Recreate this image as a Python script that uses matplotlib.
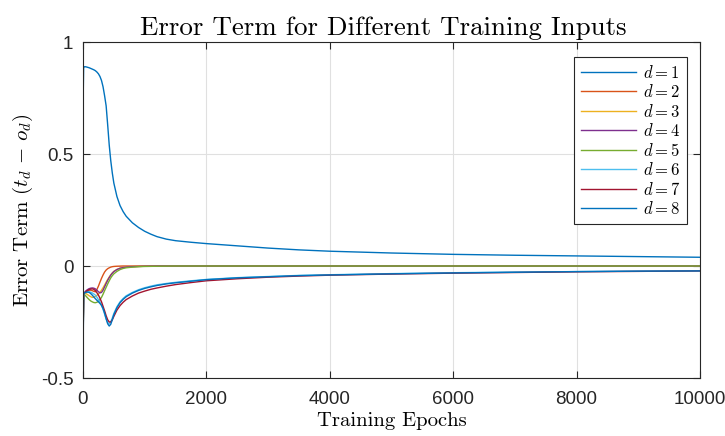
import matplotlib.pyplot as plt
from matplotlib.ticker import FixedLocator, FuncFormatter

plt.rcParams['font.family'] = 'serif'
plt.rcParams['font.serif'] = ['cmr10']
plt.rcParams['mathtext.fontset'] = 'cm'
plt.rcParams['axes.unicode_minus'] = False

# training epochs at which the error term was recorded
epochs = [0, 10, 25, 50, 75, 100, 125, 150, 175, 200, 225, 250, 275, 300, 325,
          350, 375, 400, 425, 450, 475, 500, 550, 600, 650, 700, 800, 900, 1000,
          1100, 1200, 1350, 1500, 1750, 2000, 2500, 3000, 3500, 4000, 5000, 6000,
          7000, 8000, 9000, 10000]

err_d1 = [0.70, 0.885, 0.89, 0.889, 0.887, 0.885, 0.882, 0.879, 0.876, 0.872,
          0.866, 0.858, 0.846, 0.828, 0.80, 0.76, 0.715, 0.63, 0.54, 0.47, 0.415,
          0.37, 0.31, 0.27, 0.243, 0.222, 0.193, 0.172, 0.155, 0.142, 0.131, 0.12,
          0.113, 0.106, 0.100, 0.090, 0.080, 0.072, 0.066, 0.058, 0.052, 0.048,
          0.045, 0.042, 0.039]
err_d2 = [-0.33, -0.125, -0.12, -0.115, -0.11, -0.108, -0.108, -0.11, -0.113,
          -0.115, -0.105, -0.09, -0.072, -0.055, -0.04, -0.027, -0.018, -0.012,
          -0.008, -0.005, -0.003, -0.002, -0.001, -0.0005,
          0, 0, 0, 0, 0, 0, 0, 0, 0, 0, 0, 0, 0, 0, 0, 0, 0, 0, 0, 0, 0]
err_d3 = [-0.36, -0.125, -0.122, -0.123, -0.128, -0.133, -0.137, -0.14, -0.139,
          -0.136, -0.131, -0.125, -0.118, -0.108, -0.097, -0.085, -0.072, -0.06,
          -0.049, -0.039, -0.031, -0.024, -0.015, -0.01, -0.007, -0.005, -0.003,
          -0.002, -0.001, -0.0005,
          0, 0, 0, 0, 0, 0, 0, 0, 0, 0, 0, 0, 0, 0, 0]
err_d4 = [-0.34, -0.125, -0.118, -0.11, -0.105, -0.101, -0.099, -0.098, -0.099,
          -0.102, -0.108, -0.115, -0.12, -0.118, -0.108, -0.093, -0.078, -0.064,
          -0.052, -0.041, -0.032, -0.025, -0.016, -0.01, -0.007, -0.005, -0.003,
          -0.002, -0.001, -0.0005,
          0, 0, 0, 0, 0, 0, 0, 0, 0, 0, 0, 0, 0, 0, 0]
err_d5 = [-0.37, -0.125, -0.128, -0.135, -0.143, -0.15, -0.156, -0.16, -0.163,
          -0.164, -0.162, -0.158, -0.15, -0.14, -0.126, -0.11, -0.095, -0.08,
          -0.066, -0.053, -0.043, -0.035, -0.024, -0.016, -0.011, -0.008, -0.005,
          -0.003, -0.002, -0.0015, -0.001, -0.0005,
          0, 0, 0, 0, 0, 0, 0, 0, 0, 0, 0, 0, 0]
err_d6 = [-0.38, -0.125, -0.12, -0.118, -0.116, -0.115, -0.117, -0.12, -0.125,
          -0.13, -0.139, -0.15, -0.161, -0.175, -0.193, -0.215, -0.237, -0.253,
          -0.258, -0.25, -0.232, -0.212, -0.182, -0.16, -0.145, -0.133, -0.118,
          -0.106, -0.097, -0.09, -0.084, -0.078, -0.073, -0.066, -0.060, -0.052,
          -0.047, -0.042, -0.039, -0.034, -0.030, -0.027, -0.025, -0.023, -0.021]
err_d7 = [-0.40, -0.125, -0.12, -0.114, -0.109, -0.105, -0.103, -0.102, -0.104,
          -0.11, -0.119, -0.13, -0.144, -0.16, -0.18, -0.20, -0.222, -0.24, -0.25,
          -0.25, -0.24, -0.225, -0.197, -0.177, -0.162, -0.15, -0.134, -0.121,
          -0.112, -0.104, -0.098, -0.09, -0.083, -0.074, -0.066, -0.057, -0.050,
          -0.045, -0.041, -0.036, -0.032, -0.029, -0.026, -0.024, -0.022]
err_d8 = [-0.45, -0.125, -0.12, -0.117, -0.116, -0.118, -0.123, -0.13, -0.138,
          -0.146, -0.153, -0.16, -0.167, -0.176, -0.19, -0.21, -0.235, -0.258,
          -0.268, -0.26, -0.24, -0.217, -0.186, -0.164, -0.149, -0.137, -0.121,
          -0.109, -0.10, -0.093, -0.087, -0.08, -0.075, -0.068, -0.061, -0.053,
          -0.048, -0.043, -0.040, -0.035, -0.031, -0.028, -0.025, -0.023, -0.022]

series = [err_d1, err_d2, err_d3, err_d4, err_d5, err_d6, err_d7, err_d8]
labels = ['$d = %d$' % (i + 1) for i in range(len(series))]
colors = ['#0072BD', '#D95319', '#EDB120', '#7E2F8E', '#77AC30', '#4DBEEE',
          '#A2142F', '#0072BD']

fig = plt.figure(figsize=(7.25, 4.36), dpi=100)
ax = fig.add_axes([83 / 725, 1 - 378 / 436, 617 / 725, 336 / 436])

for y, c, lab in zip(series, colors, labels):
    ax.plot(epochs, y, color=c, linewidth=1.0, label=lab)

ax.set_xlim(0, 10000)
ax.set_ylim(-0.5, 1)
ax.xaxis.set_major_locator(FixedLocator([0, 2000, 4000, 6000, 8000, 10000]))
ax.yaxis.set_major_locator(FixedLocator([-0.5, 0, 0.5, 1]))
ax.xaxis.set_major_formatter(FuncFormatter(lambda v, p: '%g' % v))
ax.yaxis.set_major_formatter(FuncFormatter(lambda v, p: '%g' % v))
for t in ax.get_xticklabels() + ax.get_yticklabels():
    t.set_fontfamily('Liberation Sans')
    t.set_fontsize(13.5)
    t.set_color('#262626')

ax.tick_params(direction='in', length=5, width=0.8, color='#262626',
               top=True, right=True)
ax.tick_params(axis='x', pad=9)
ax.tick_params(axis='y', pad=7)
ax.grid(True, color='#e0e0e0', linewidth=0.8)
ax.set_axisbelow(True)
for s in ax.spines.values():
    s.set_color('#262626')
    s.set_linewidth(0.8)

ax.set_title('Error Term for Different Training Inputs', fontsize=19.4,
             x=0.487, pad=5)
ax.set_xlabel('Training Epochs', fontsize=14.9, labelpad=3)
ax.set_ylabel(r'Error Term $(t_d\,-\,o_d)$', fontsize=15, labelpad=4)

leg = ax.legend(loc='upper right', bbox_to_anchor=(687 / 725, 1 - 57 / 436),
                bbox_transform=fig.transFigure, fontsize=12, frameon=True,
                fancybox=False, edgecolor='#262626', framealpha=1,
                handlelength=3.3, labelspacing=0.15, borderpad=0.4,
                handletextpad=0.4, borderaxespad=0)
leg.get_frame().set_linewidth(0.8)

fig.savefig('out.png', dpi=100)
